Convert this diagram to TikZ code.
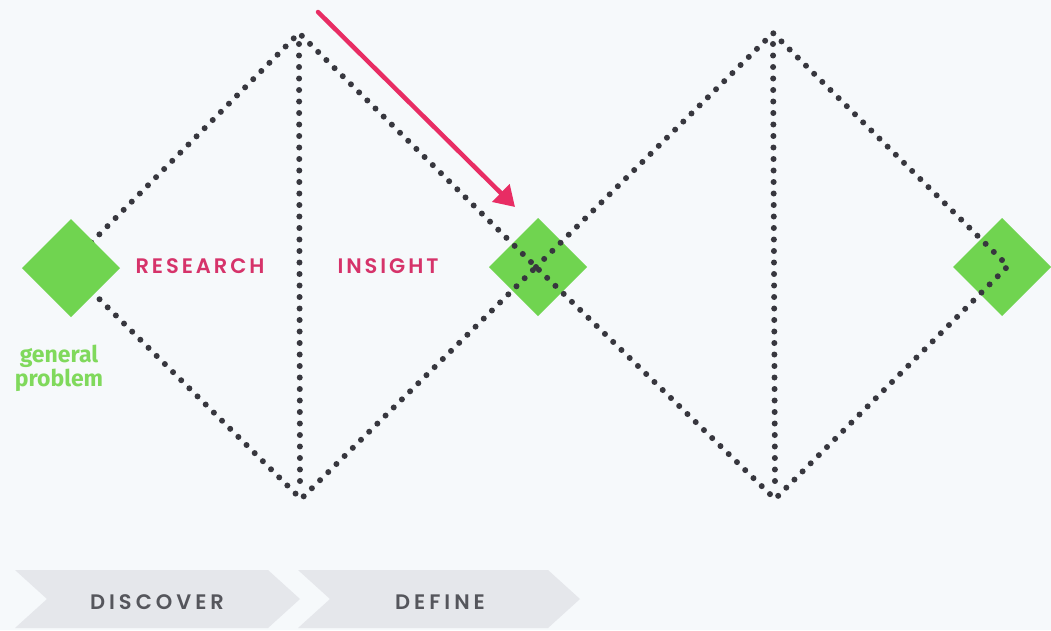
\documentclass[tikz,border=0pt]{standalone}
\usepackage{fontspec}
\setmainfont{Fira Sans}
\newfontfamily\stagefont[LetterSpace=14]{Poppins SemiBold}
\newfontfamily\phasefont[LetterSpace=19]{Poppins SemiBold}
\usetikzlibrary{arrows.meta}
\definecolor{bg}{RGB}{246,249,251}
\definecolor{grn}{RGB}{112,212,80}
\definecolor{grntxt}{RGB}{128,217,92}
\definecolor{pinktxt}{RGB}{214,51,106}
\definecolor{arrowpink}{RGB}{232,45,100}
\definecolor{dotc}{RGB}{55,55,62}
\definecolor{chev}{RGB}{229,231,235}
\definecolor{chevtxt}{RGB}{85,86,92}
\begin{document}
\begin{tikzpicture}[x=1pt,y=-1pt,
  dots/.style={draw=dotc, line width=6pt, line cap=round, dash pattern=on 0pt off 11.5pt},
  gsq/.style={fill=grn, rotate=45, minimum width=69.3pt, minimum height=69.3pt, inner sep=0pt, draw=none},
  stage/.style={text=pinktxt, font=\stagefont\fontsize{21}{22}\selectfont, inner sep=0pt},
  phase/.style={text=chevtxt, font=\phasefont\fontsize{21}{22}\selectfont, inner sep=0pt},
  chevron/.style={fill=chev},
  pointer/.style={draw=arrowpink, line width=4.5pt, line cap=round, -{Triangle[length=20pt,width=24pt,fill=arrowpink]}}]
\fill[bg] (0,0) rectangle (1051,630);
\useasboundingbox (0,0) rectangle (1051,630);
% coordinates of the diamonds
\coordinate (L1) at (67,267);
\coordinate (T1) at (299,33);
\coordinate (R1) at (536,267);
\coordinate (B1) at (301,499);
\coordinate (T2) at (773,33);
\coordinate (R2) at (1008,266);
\coordinate (B2) at (775,499);
\coordinate (V1t) at (299,44);
\coordinate (V1b) at (300,490);
\coordinate (V2t) at (773,44);
\coordinate (V2b) at (775,490);
% green squares under the dots
\node[gsq] (sqmid) at (538,267) {};
\node[gsq] (sqright) at (1002,267) {};
% dotted diamonds
\draw[dots] (L1) -- (T1) -- (R1) -- (B1) -- cycle;
\draw[dots] (R1) -- (T2) -- (R2) -- (B2) -- cycle;
\draw[dots] (V1t) -- (V1b);
\draw[dots] (V2t) -- (V2b);
% left square above the dots
\node[gsq] (sqleft) at (71,268) {};
% arrow
\coordinate (As) at (318,12);
\coordinate (Ae) at (515,207);
\draw[pointer] (As) -- (Ae);
% labels
\node[stage, anchor=base] (research) at (200,273) {RESEARCH};
\node[stage, anchor=base] (insight) at (388,273) {INSIGHT};
\node[align=center, text=grntxt, font=\bfseries\fontsize{23}{24}\selectfont, inner sep=0pt] (gp) at (59,368) {general\\problem};
% chevrons
\fill[chevron] (15,570) -- (268,570) -- (300,599) -- (268,628) -- (15,628) -- (47,599) -- cycle;
\fill[chevron] (298,570) -- (548,570) -- (580,599) -- (548,628) -- (298,628) -- (330,599) -- cycle;
\node[phase, anchor=base] (discover) at (157,609) {DISCOVER};
\node[phase, anchor=base] (define) at (440,609) {DEFINE};
\end{tikzpicture}
\end{document}
